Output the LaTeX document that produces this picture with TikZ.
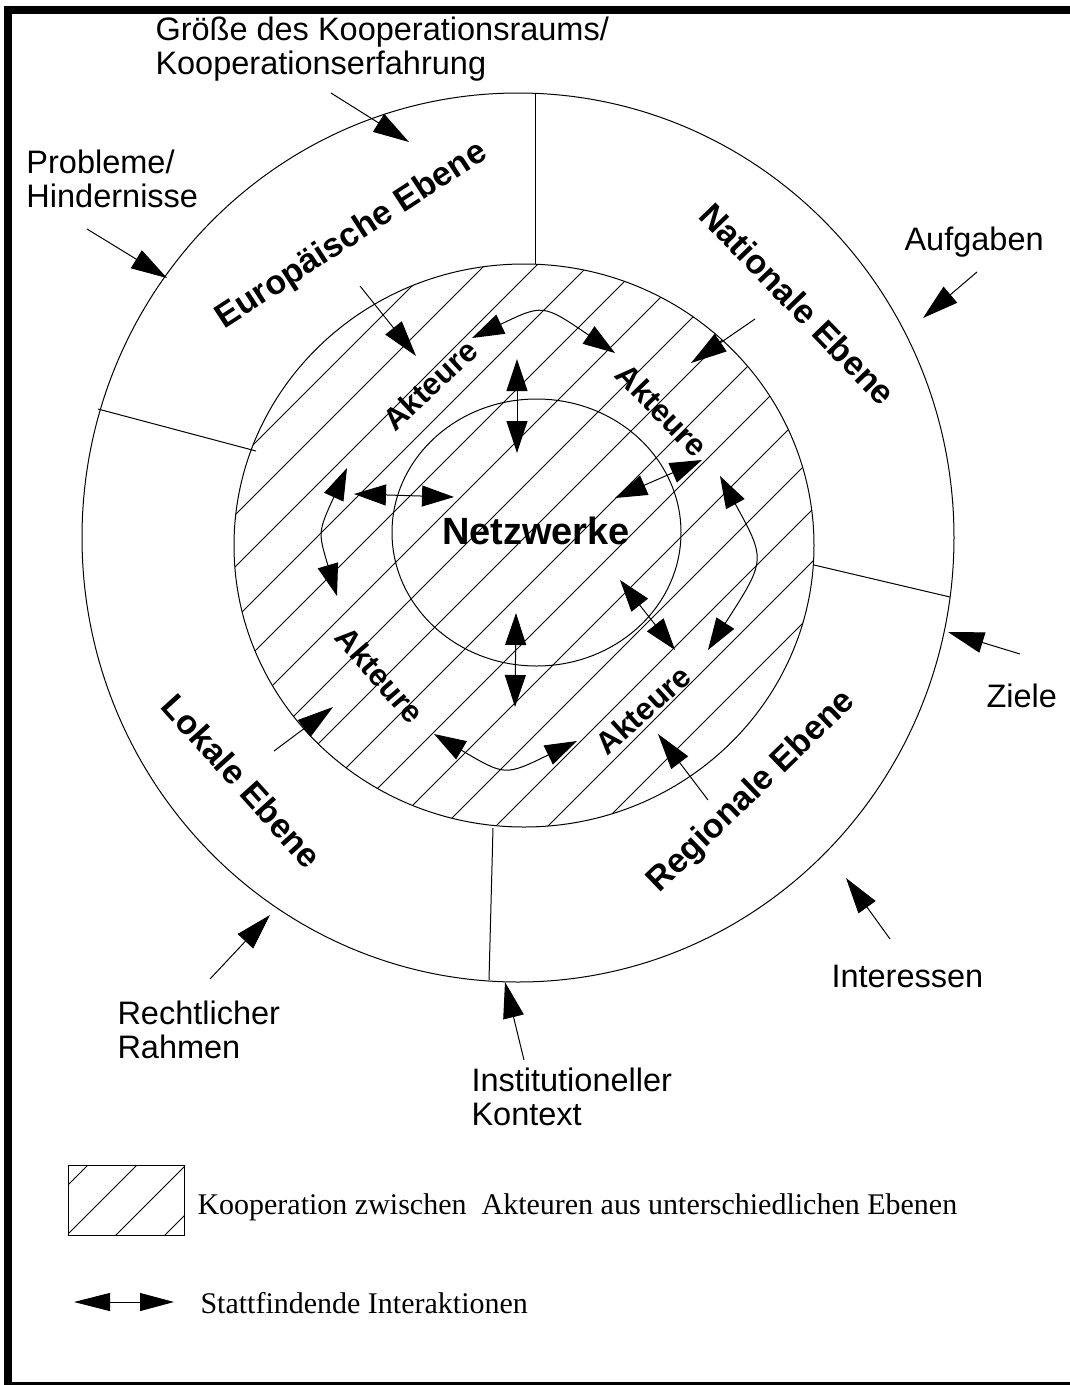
\documentclass[tikz,border=0pt]{standalone}
\usepackage{fontspec}
\setmainfont{Liberation Sans}
\newfontfamily\legendfont{Liberation Serif}
\usetikzlibrary{arrows.meta}

\tikzset{
  lbl/.style={font=\fontsize{32.5}{34}\selectfont, align=left, inner sep=0pt, anchor=base west},
  lvl/.style={font=\fontsize{34}{36}\selectfont\bfseries, inner sep=0pt},
  akt/.style={font=\fontsize{31}{32}\selectfont\bfseries, inner sep=0pt},
  leg/.style={font=\legendfont\fontsize{30}{32}\selectfont, inner sep=0pt, anchor=base west},
  ptr/.style={-{Triangle[length=36pt,width=21pt]}},
  dbl/.style={{Triangle[length=32pt,width=21pt]}-{Triangle[length=32pt,width=21pt]}},
}

\begin{document}
\begin{tikzpicture}[x=1pt, y=-1pt, line width=1pt]
  \useasboundingbox (0,0) rectangle (1070,1385);
  \clip (0,0) rectangle (1070,1385);
  \draw[line width=8pt] (8,9.5) rectangle (1076,1386);

  % rings
  \draw (518,537.5) ellipse [x radius=436, y radius=444.5];
  \begin{scope}
    \clip (524,545.5) ellipse [x radius=290, y radius=281.5];
    \foreach \c in {646,698,...,1478}
      \draw (\c-900,900) -- (\c,0);
  \end{scope}
  \draw (524,545.5) ellipse [x radius=290, y radius=281.5];
  \draw (536.5,532.5) ellipse [x radius=144.5, y radius=133.5];

  % sector borders
  \coordinate (dt1) at (535,93);   \coordinate (dt2) at (535,264);
  \coordinate (dl1) at (98,409);   \coordinate (dl2) at (256,451);
  \coordinate (dr1) at (814,565);  \coordinate (dr2) at (950,597);
  \coordinate (db1) at (493,828);  \coordinate (db2) at (489,980);
  \draw (dt1) -- (dt2);
  \draw (dl1) -- (dl2);
  \draw (dr1) -- (dr2);
  \draw (db1) -- (db2);

  % levels
  \node[lvl, rotate=33] (eu) at (352,236) {Europäische Ebene};
  \node[lvl, rotate=-46] (nat) at (798,304) {Nationale Ebene};
  \node[lvl, rotate=-48] (lok) at (242,781) {Lokale Ebene};
  \node[lvl, rotate=44] (reg) at (752,792) {Regionale Ebene};

  \node[akt, rotate=43] (a1) at (430,385) {Akteure};
  \node[akt, rotate=-46] (a2) at (662,410) {Akteure};
  \node[akt, rotate=-49] (a3) at (380,675) {Akteure};
  \node[akt, rotate=42] (a4) at (643,710) {Akteure};

  \node[font=\fontsize{38}{40}\selectfont\bfseries, inner sep=0pt, anchor=base] (netz) at (536,544) {Netzwerke};

  % outside labels
  \node[lbl] (groesse) at (155,74) {Größe des Kooperationsraums/\\Kooperationserfahrung};
  \node[lbl] (probl) at (26,207) {Probleme/\\Hindernisse};
  \node[lbl] (aufg) at (904,250) {Aufgaben};
  \node[lbl] (ziele) at (986,707) {Ziele};
  \node[lbl] (inter) at (831,987) {Interessen};
  \node[lbl] (recht) at (117,1058) {Rechtlicher\\Rahmen};
  \node[lbl] (inst) at (471,1125) {Institutioneller\\Kontext};

  \coordinate (g0) at (331,93);   \coordinate (g1) at (409,142);
  \coordinate (p0) at (87,229);   \coordinate (p1) at (167,278);
  \coordinate (f0) at (977,272);  \coordinate (f1) at (923,318);
  \coordinate (z0) at (1020,654); \coordinate (z1) at (948,632);
  \coordinate (i0) at (890,939);  \coordinate (i1) at (846,878);
  \coordinate (k0) at (524,1060); \coordinate (k1) at (505,982);
  \coordinate (r0) at (210,979);  \coordinate (r1) at (270,915);
  \draw[ptr] (g0) -- (g1);
  \draw[ptr] (p0) -- (p1);
  \draw[ptr] (f0) -- (f1);
  \draw[ptr] (z0) -- (z1);
  \draw[ptr] (i0) -- (i1);
  \draw[ptr] (k0) -- (k1);
  \draw[ptr] (r0) -- (r1);

  % level -> actors
  \coordinate (e0) at (360,286);  \coordinate (e1) at (416,356);
  \coordinate (n0) at (755,319);  \coordinate (n1) at (691,363);
  \coordinate (l0) at (274,751);  \coordinate (l1) at (333,707);
  \coordinate (q0) at (708,800);  \coordinate (q1) at (658,734);
  \draw[ptr] (e0) -- (e1);
  \draw[ptr] (n0) -- (n1);
  \draw[ptr] (l0) -- (l1);
  \draw[ptr] (q0) -- (q1);

  % interactions
  \coordinate (c1) at (472,338); \coordinate (c2) at (615,353);
  \coordinate (c3) at (720,476); \coordinate (c4) at (708,650);
  \coordinate (c5) at (577,741); \coordinate (c6) at (434,734);
  \coordinate (c7) at (337,596); \coordinate (c8) at (347,468);
  \draw[dbl] (c1) .. controls (543,304) .. (c2);
  \draw[dbl] (c3) .. controls (766,560) .. (c4);
  \draw[dbl] (c5) .. controls (505,776) .. (c6);
  \draw[dbl] (c7) .. controls (318,532) .. (c8);

  \coordinate (m1) at (517,359); \coordinate (m2) at (517,453);
  \coordinate (m3) at (354,494); \coordinate (m4) at (454,497);
  \coordinate (m5) at (702,460); \coordinate (m6) at (615,498);
  \coordinate (m7) at (516,613); \coordinate (m8) at (515,707);
  \coordinate (m9) at (620,580); \coordinate (m10) at (675,650);
  \draw[dbl] (m1) -- (m2);
  \draw[dbl] (m3) -- (m4);
  \draw[dbl] (m5) -- (m6);
  \draw[dbl] (m7) -- (m8);
  \draw[dbl] (m9) -- (m10);

  % legend
  \draw (68,1165) rectangle (184,1235);
  \begin{scope}
    \clip (68,1165) rectangle (184,1235);
    \foreach \c in {1253,1302,1351,1400}
      \draw (\c-1240,1240) -- (\c-1160,1160);
  \end{scope}
  \node[leg] (koop) at (197,1214) {Kooperation zwischen\ \ Akteuren aus unterschiedlichen Ebenen};
  \coordinate (la) at (74,1302); \coordinate (lb) at (174,1302);
  \draw[{Triangle[length=36pt,width=18pt]}-{Triangle[length=34pt,width=18pt]}] (la) -- (lb);
  \node[leg] (statt) at (200,1313) {Stattfindende Interaktionen};
\end{tikzpicture}
\end{document}
